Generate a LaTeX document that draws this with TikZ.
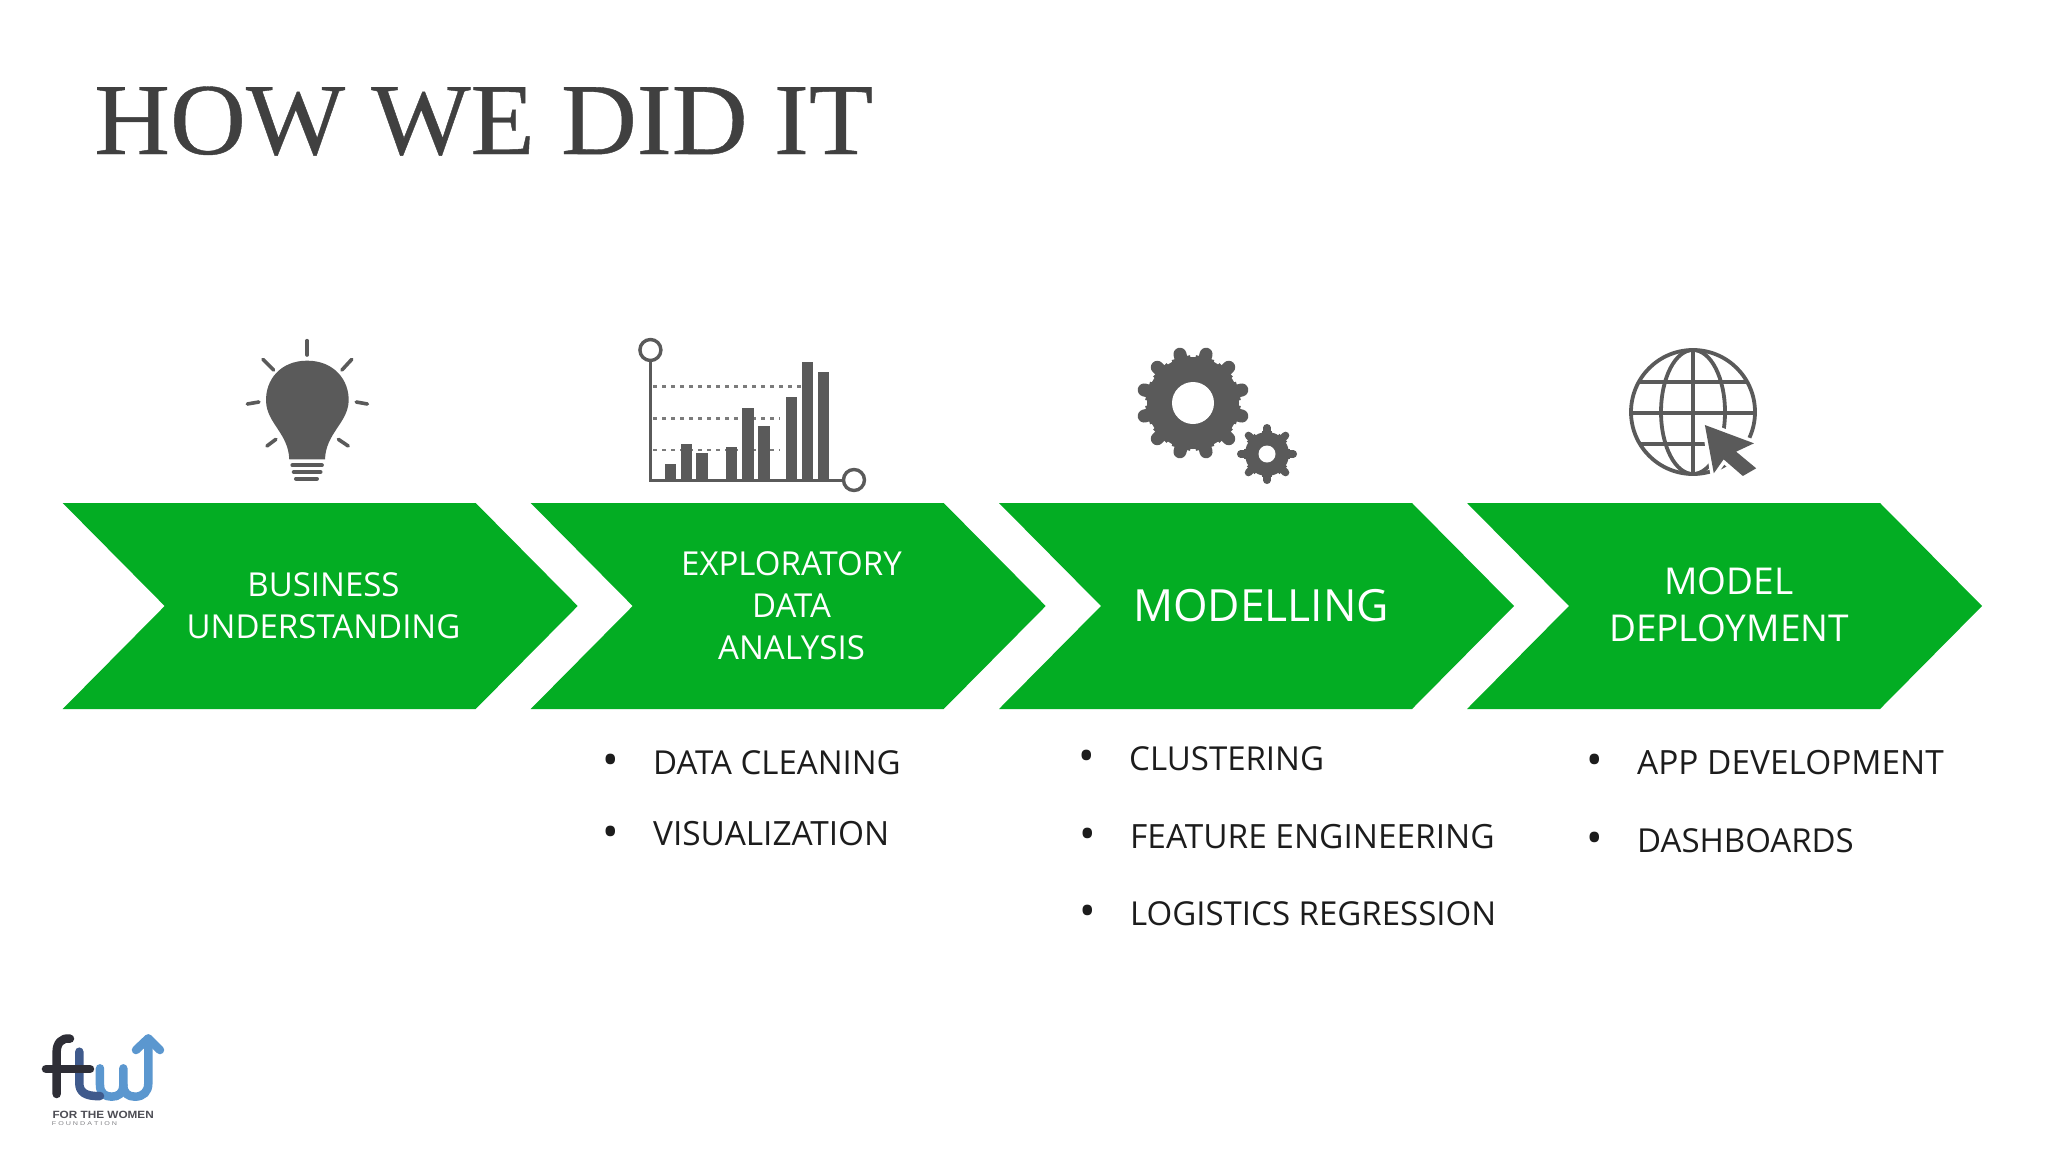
\documentclass[tikz,border=0pt]{standalone}
\usepackage{fontspec}
\setmainfont{Open Sans}
\newfontfamily\titlefont[FakeBold=0.4]{Liberation Serif}
\newfontfamily\logofont{Liberation Sans}
\usetikzlibrary{calc}
\definecolor{chevgreen}{HTML}{03AD23}
\definecolor{iconc}{HTML}{5A5A5A}
\definecolor{titlec}{HTML}{404040}
\definecolor{txtc}{HTML}{1C1C1C}
\definecolor{logodark}{HTML}{2E2E36}
\definecolor{logomid}{HTML}{3F5A8C}
\definecolor{logoblue}{HTML}{5B97CF}
\tikzset{
  chevron/.style={fill=chevgreen,draw=none},
  chevtext/.style={text=white,align=center,anchor=center,inner sep=0pt},
  bullettext/.style={text=txtc,anchor=base west,inner sep=0pt,font=\fontsize{33.4}{40}\selectfont},
  bullettextsm/.style={text=txtc,anchor=base west,inner sep=0pt,font=\fontsize{33}{40}\selectfont},
  bulletdot/.style={text=txtc,anchor=base,inner sep=0pt,font=\fontsize{44}{50}\selectfont},
  zoomA/.style={shift={(200,320)},x=0.4464pt,y=-0.3333pt},
  zoomB/.style={shift={(1100,320)},x=0.4464pt,y=-0.3333pt},
  zoomC/.style={shift={(20,1020)},x=0.3333pt,y=-0.3333pt},
  bulbray/.style={draw=iconc,line width=3.6pt,line cap=round},
  bulbstripe/.style={draw=iconc,line width=4pt,line cap=round},
  chartbar/.style={fill=iconc,draw=none},
  chartaxis/.style={draw=iconc,line width=3.4pt},
  chartdash/.style={draw=iconc!80,line width=2.5pt,dash pattern=on 4pt off 5pt},
  globeline/.style={draw=iconc,line width=3.8pt},
  logostroke/.style={line width=8.5pt,line cap=round,line join=round},
}
\newcommand{\chev}[2]{%
  \fill[chevron,shift={(#1,0)}] (0,503) -- (413,503) -- (515,606) -- (413,709) -- (0,709) -- (102,606) -- cycle;
  \coordinate (#2) at (#1+258,606);
}
\newcommand{\gearicon}[7]{% x y root outer toothwidth count startangle
  \fill[iconc] (#1,#2) circle[radius=#3];
  \foreach \gi in {1,...,#6}{
    \draw[iconc,line width=#5pt,line cap=round]
      ($(#1,#2)+({#7+360*\gi/#6}:#3-2)$) -- ($(#1,#2)+({#7+360*\gi/#6}:#4-#5/2)$);
    \draw[iconc,line width=1.45*#5pt]
      ($(#1,#2)+({#7+360*\gi/#6}:#3-3)$) -- ($(#1,#2)+({#7+360*\gi/#6}:#3+1)$);
  }
}
\begin{document}
\begin{tikzpicture}[x=1pt,y=-1pt]
\useasboundingbox (0,0) rectangle (2048,1152);
\fill[white] (0,0) rectangle (2048,1152);

% title
\node[anchor=base west,inner sep=0pt,text=titlec,font=\titlefont\fontsize{102}{110}\selectfont,xscale=1.03] (title) at (94,154) {HOW WE DID IT};

% chevrons
\chev{62.7}{c1}
\chev{530.7}{c2}
\chev{999}{c3}
\chev{1467}{c4}

\node[chevtext,font=\fontsize{33}{42}\selectfont] (t1) at (323.5,606) {BUSINESS\\UNDERSTANDING};
\node[chevtext,font=\fontsize{33}{42}\selectfont] (t2) at (791.5,606) {EXPLORATORY\\DATA\\ANALYSIS};
\node[chevtext,font=\fontsize{44.4}{50}\selectfont] (t3) at (1261,605.5) {MODELLING};
\node[chevtext,font=\fontsize{37}{47}\selectfont] (t4) at (1729,605) {MODEL\\DEPLOYMENT};

% bullets
\node[bulletdot] (b1) at (611,775) {•};
\node[bullettextsm] (l1) at (653,774) {DATA CLEANING};
\node[bulletdot] (b2) at (611,847) {•};
\node[bullettext] (l2) at (653,845) {VISUALIZATION};
\node[bulletdot] (b3) at (1087,771) {•};
\node[bullettextsm] (l3) at (1129,770) {CLUSTERING};
\node[bulletdot] (b4) at (1088,849) {•};
\node[bullettext] (l4) at (1130,848) {FEATURE ENGINEERING};
\node[bulletdot] (b5) at (1088,926) {•};
\node[bullettextsm] (l5) at (1130,925) {LOGISTICS REGRESSION};
\node[bulletdot] (b6) at (1595,775) {•};
\node[bullettext] (l6) at (1637,774) {APP DEVELOPMENT};
\node[bulletdot] (b7) at (1595,853) {•};
\node[bullettextsm] (l7) at (1637,852) {DASHBOARDS};

% bulb
\begin{scope}[zoomA]
  \fill[iconc] (240,122) .. controls (300,122) and (335,180) .. (333,245)
     .. controls (330,310) and (282,340) .. (280,418) -- (200,418)
     .. controls (198,340) and (150,310) .. (148,245)
     .. controls (146,180) and (180,122) .. cycle;
  \draw[bulbray] (240,62) -- (240,105);
  \draw[bulbray] (141,118) -- (165,150);
  \draw[bulbray] (340,118) -- (318,150);
  \draw[bulbray] (106,252) -- (132,246);
  \draw[bulbray] (350,246) -- (375,252);
  \draw[bulbray] (150,378) -- (170,358);
  \draw[bulbray] (332,378) -- (310,358);
  \draw[bulbstripe] (207,436) -- (273,436);
  \draw[bulbstripe] (210,456) -- (270,456);
  \draw[bulbstripe] (215,476) -- (262,476);
\end{scope}

% chart
\begin{scope}[zoomA]
  \draw[chartdash] (1015,200) -- (1350,200);
  \draw[chartdash] (1015,295) -- (1300,295);
  \draw[chartdash] (1015,390) -- (1300,390);
  \fill[chartbar] (1041,482) rectangle (1066,432);
  \fill[chartbar] (1077,482) rectangle (1102,373);
  \fill[chartbar] (1112,482) rectangle (1137,400);
  \fill[chartbar] (1178,482) rectangle (1204,382);
  \fill[chartbar] (1214,482) rectangle (1240,263);
  \fill[chartbar] (1250,482) rectangle (1276,318);
  \fill[chartbar] (1313,482) rectangle (1338,230);
  \fill[chartbar] (1348,482) rectangle (1373,127);
  \fill[chartbar] (1384,482) rectangle (1409,155);
  \draw[chartaxis] (1009,118) -- (1009,482) -- (1440,482);
  \coordinate (ca) at (1009,90);
  \coordinate (cb) at (1465,480);
\end{scope}
\draw[chartaxis] (ca) circle[radius=10.5];
\draw[chartaxis] (cb) circle[radius=10.5];

% gears
\gearicon{1193}{403}{46}{57}{13}{12}{15}
\fill[white] (1193,403) circle[radius=21];
\gearicon{1267}{454}{22}{30}{7.5}{8}{0}
\fill[white] (1267,454) circle[radius=8.5];

% globe
\draw[globeline] (1693,412) circle[radius=62];
\draw[globeline] (1693,412) ellipse[x radius=32,y radius=62];
\draw[globeline] (1693,350) -- (1693,474);
\begin{scope}[zoomB]
  \draw[globeline] (1205,185) -- (1450,185);
  \draw[globeline] (1188,278) -- (1465,278);
  \draw[globeline] (1212,372) -- (1355,372);
  \fill[white,draw=white,line width=7pt,line join=round]
    (1355,315) -- (1465,370) -- (1425,395) -- (1470,445) -- (1440,468) -- (1397,418) -- (1375,460) -- cycle;
  \fill[iconc]
    (1355,315) -- (1465,370) -- (1425,395) -- (1470,445) -- (1440,468) -- (1397,418) -- (1375,460) -- cycle;
\end{scope}

% logo
\begin{scope}[zoomC]
  \draw[logostroke,draw=logoblue] (240,145) -- (240,195) .. controls (240,220) and (255,230) .. (275,230) .. controls (295,230) and (310,220) .. (310,195) -- (310,145);
  \draw[logostroke,draw=logoblue] (310,195) .. controls (310,220) and (325,230) .. (345,230) .. controls (370,230) and (385,215) .. (385,190) -- (385,60);
  \draw[logostroke,draw=logoblue] (348,90) -- (385,55) -- (420,90);
  \draw[logostroke,draw=logomid] (178,95) -- (178,190) .. controls (178,215) and (195,230) .. (240,228);
  \draw[logostroke,draw=logodark] (150,56) .. controls (125,52) and (110,70) .. (110,95) -- (110,222);
  \draw[logostroke,draw=logodark] (78,147) -- (210,147);
  \node[anchor=base west,inner sep=0pt,text=logodark!85,font=\logofont\bfseries\fontsize{10.5}{12}\selectfont,xscale=1.12] (lg1) at (97,295) {FOR THE WOMEN};
  \node[anchor=base west,inner sep=0pt,text=logodark!60,font=\logofont\fontsize{5.5}{7}\selectfont,xscale=1.3] (lg2) at (95,316) {F O U N D A T I O N};
\end{scope}
\end{tikzpicture}
\end{document}
